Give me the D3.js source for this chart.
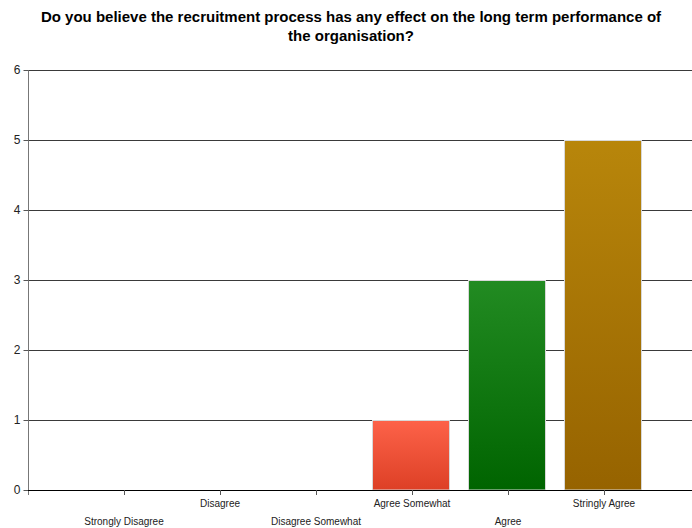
<!DOCTYPE html>
<html>
<head>
<meta charset="utf-8">
<script src="https://cdn.jsdelivr.net/npm/d3@7"></script>
<style>
  html, body { margin: 0; padding: 0; background: #fff; }
  svg { display: block; }
</style>
</head>
<body>
<svg id="chart" width="692" height="528"></svg>
<script>
const categories = ["Strongly Disagree", "Disagree", "Disagree Somewhat", "Agree Somewhat", "Agree", "Stringly Agree"];
const values = [0, 0, 0, 1, 3, 5];
const yTicks = [0, 1, 2, 3, 4, 5, 6];
const titleLines = ["Do you believe the recruitment process has any effect on the long term performance of", "the organisation?"];
const barTop = ["#fd6249", "#fd6249", "#fd6249", "#fd6249", "#228b22", "#b8860b"];
const barBottom = ["#dd4026", "#dd4026", "#dd4026", "#dd4026", "#006400", "#966300"];

(function () {
const svg = d3.select("#chart");
const mLeft = 28, mTop = 70, mBottom = 490;
const step = 96;

const x = d3.scaleBand()
  .domain(categories)
  .range([mLeft + step / 2, mLeft + step / 2 + step * categories.length])
  .paddingInner(0.2)
  .paddingOuter(0.1);
const y = d3.scaleLinear().domain([0, 6]).range([mBottom, mTop]);

// title
const title = svg.append("text")
  .attr("x", 351).attr("y", 22)
  .attr("text-anchor", "middle")
  .style("font-family", "'Liberation Sans', Arial, sans-serif")
  .style("font-weight", "bold")
  .style("font-size", "15px")
  .attr("fill", "#000");
titleLines.forEach((t, i) => title.append("tspan").attr("x", 351).attr("dy", i === 0 ? 0 : 19).text(t));

// gradients
const defs = svg.append("defs");
categories.forEach((c, i) => {
  const g = defs.append("linearGradient").attr("id", "g" + i)
    .attr("x1", 0).attr("y1", 0).attr("x2", 0).attr("y2", 1);
  g.append("stop").attr("offset", "0%").attr("stop-color", barTop[i]);
  g.append("stop").attr("offset", "100%").attr("stop-color", barBottom[i]);
});

// gridlines
svg.append("g").selectAll("line").data(yTicks.filter(d => d > 0)).join("line")
  .attr("x1", mLeft).attr("x2", 692)
  .attr("y1", d => Math.round(y(d)) + 0.5).attr("y2", d => Math.round(y(d)) + 0.5)
  .attr("stroke", "#3a3a3a").attr("stroke-width", 1);

// bars
svg.append("g").selectAll("rect").data(categories.map((c, i) => ({c, v: values[i], i})).filter(d => d.v > 0)).join("rect")
  .attr("x", d => Math.floor(x(d.c)) - 0.5)
  .attr("y", d => Math.round(y(d.v)) + 0.5)
  .attr("width", Math.round(x.bandwidth()))
  .attr("height", d => y(0) - Math.round(y(d.v)) - 0.5)
  .attr("fill", d => `url(#g${d.i})`)
  .attr("stroke", "#d8d8d8").attr("stroke-width", 1);

// y axis
const yAxis = svg.append("g").attr("transform", `translate(${mLeft + 0.5},0)`)
  .call(d3.axisLeft(y).tickValues(yTicks).tickFormat(d3.format("d")).tickSize(5).tickPadding(3));
yAxis.select(".domain").attr("stroke", "#777").attr("d", `M0,${mTop}V${mBottom + 5}`);
yAxis.selectAll(".tick line").attr("stroke", "#555");
yAxis.selectAll(".tick text")
  .style("font-family", "'Liberation Sans', Arial, sans-serif")
  .style("font-size", "12px").attr("fill", "#222");

// x axis line
svg.append("line").attr("x1", mLeft).attr("x2", 692)
  .attr("y1", mBottom + 0.5).attr("y2", mBottom + 0.5)
  .attr("stroke", "#000").attr("stroke-width", 1);

// x axis
const centers = c => x(c) + x.bandwidth() / 2;
const xAxis = svg.append("g").attr("transform", `translate(0,${mBottom})`);
xAxis.selectAll("line.t").data(categories).join("line").attr("class", "t")
  .attr("x1", d => Math.round(centers(d)) + 0.5).attr("x2", d => Math.round(centers(d)) + 0.5)
  .attr("y1", 0).attr("y2", 5).attr("stroke", "#555");
xAxis.selectAll("text").data(categories).join("text")
  .attr("x", d => centers(d))
  .attr("y", (d, i) => i % 2 === 0 ? 35 : 17)
  .attr("text-anchor", "middle")
  .style("font-family", "'Liberation Sans', Arial, sans-serif")
  .style("font-size", "10px").attr("fill", "#222")
  .text(d => d);
})();
</script>
</body>
</html>
